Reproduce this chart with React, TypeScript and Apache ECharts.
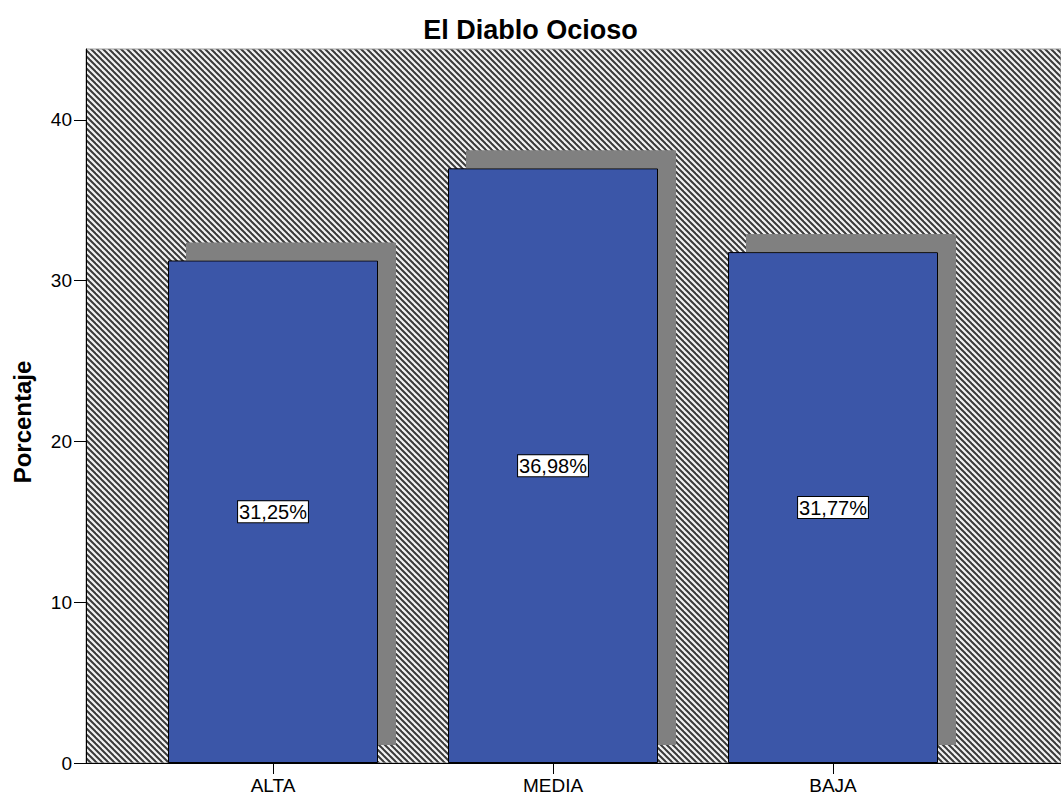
import React, { useEffect, useRef } from "react";
import * as echarts from "echarts";

const chartTitle = "El Diablo Ocioso";
const yAxisName = "Porcentaje";
const categories = ["ALTA", "MEDIA", "BAJA"];
const percentages = [31.25, 36.98, 31.77];
const yMin = 0;
const yMax = 44.4;
const yInterval = 10;

const FONT = "Arial, 'Liberation Sans', Helvetica, sans-serif";

function makeHatch(): HTMLCanvasElement {
  const p = 6;
  const c = document.createElement("canvas");
  c.width = p;
  c.height = p;
  const ctx = c.getContext("2d")!;
  ctx.fillStyle = "#f2f2f2";
  ctx.fillRect(0, 0, p, p);
  ctx.strokeStyle = "#3a3a3a";
  ctx.lineWidth = 2;
  for (const off of [-p, 0, p]) {
    ctx.beginPath();
    ctx.moveTo(-1, -1 + off);
    ctx.lineTo(p + 1, p + 1 + off);
    ctx.stroke();
  }
  return c;
}

export default function App() {
  const ref = useRef<HTMLDivElement>(null);
  useEffect(() => {
    if (!ref.current) return;
    const chart = echarts.init(ref.current, undefined, { renderer: "svg" });
    const hatch = makeHatch();
    const option: any = {
      animation: false,
      backgroundColor: "#ffffff",
      textStyle: { fontFamily: FONT },
      title: {
        text: chartTitle,
        left: "center",
        top: 11,
        textStyle: { fontFamily: FONT, fontSize: 27, fontWeight: "bold", color: "#000" },
      },
      grid: [
        {
          left: 86,
          right: 0,
          top: 49,
          bottom: 33,
          show: true,
          containLabel: false,
          outerBoundsMode: "none",
          backgroundColor: { image: hatch, repeat: "repeat" },
          borderWidth: 1,
          borderColor: "#9a9a9a",
        },
        {
          left: 133,
          right: 88,
          top: 49,
          bottom: 33,
          containLabel: false,
          outerBoundsMode: "none",
        },
      ],
      xAxis: [
        {
          gridIndex: 0,
          type: "value",
          min: 0,
          max: 1,
          axisLine: { show: true, onZero: false, lineStyle: { color: "#000", width: 1 } },
          axisTick: { show: false },
          axisLabel: { show: false },
          splitLine: { show: false },
        },
        {
          gridIndex: 1,
          type: "category",
          data: categories,
          axisLine: { show: false },
          axisTick: { show: true, alignWithLabel: true, length: 11, lineStyle: { color: "#000" } },
          axisLabel: { margin: 13, fontSize: 19, lineHeight: 19, color: "#000", fontFamily: FONT },
          splitLine: { show: false },
        },
      ],
      yAxis: [
        {
          gridIndex: 0,
          type: "value",
          min: yMin,
          max: yMax,
          interval: yInterval,
          name: yAxisName,
          nameLocation: "middle",
          nameRotate: 90,
          nameGap: 52,
          nameTextStyle: {
            fontFamily: FONT,
            fontSize: 24,
            fontWeight: "bold",
            color: "#000",
            padding: [0, 32, 0, 0],
          },
          axisLine: { show: true, lineStyle: { color: "#000", width: 1 } },
          axisTick: { show: true, length: 12, lineStyle: { color: "#000" } },
          axisLabel: { margin: 14, fontSize: 19, color: "#000", fontFamily: FONT, showMaxLabel: false },
          splitLine: { show: false },
        },
        {
          gridIndex: 1,
          type: "value",
          min: yMin,
          max: yMax,
          interval: yInterval,
          show: false,
          splitLine: { show: false },
        },
      ],
      series: [
        {
          type: "bar",
          xAxisIndex: 1,
          yAxisIndex: 1,
          data: percentages,
          barWidth: 210,
          itemStyle: {
            color: "#3b56a8",
            borderColor: "#000",
            borderWidth: 1,
            shadowColor: "#808080",
            shadowBlur: 0,
            shadowOffsetX: 18,
            shadowOffsetY: -18,
          },
          label: {
            show: true,
            position: "inside",
            formatter: (p: any) => p.value.toFixed(2).replace(".", ",") + "%",
            color: "#000",
            fontSize: 20,
            fontFamily: FONT,
            backgroundColor: "#ffffff",
            borderColor: "#000",
            borderWidth: 1,
            padding: [1, 1, 0, 1],
          },
        },
      ],
    };
    chart.setOption(option);
    return () => chart.dispose();
  }, []);
  return (
    <div
      ref={ref}
      style={{ position: "absolute", left: 0, top: 0, width: 1061, height: 796 }}
    />
  );
}
